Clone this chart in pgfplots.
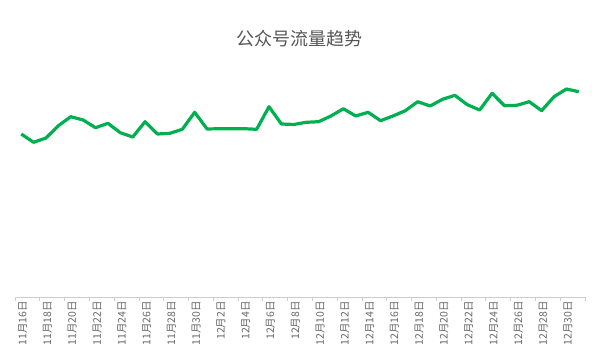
\documentclass[border=0pt]{standalone}
\usepackage{pgfplots}
\pgfplotsset{compat=1.18}
\usepackage{fontspec}
\newfontfamily\cjk{Noto Sans CJK SC}
\definecolor{linegreen}{RGB}{0,176,80}
\definecolor{axisgray}{RGB}{204,204,204}
\definecolor{labelgray}{RGB}{102,102,102}
\definecolor{titlegray}{RGB}{85,85,85}
\begin{document}
\begin{tikzpicture}[x=1pt,y=1pt]
\useasboundingbox (0,0) rectangle (592,354);
\node[font=\cjk\fontsize{18}{18}\selectfont, text=titlegray] at (299,315) {公众号流量趋势};
\begin{axis}[
  at={(15pt,57pt)}, anchor=south west,
  scale only axis, width=570pt, height=237pt,
  xmin=-0.5, xmax=45.5, ymin=0, ymax=237,
  axis x line*=bottom, axis y line=none,
  x axis line style={draw=axisgray, line width=0.8pt, -},
  xtick={0,2,...,44},
  xticklabels={11月16日,11月18日,11月20日,11月22日,11月24日,11月26日,11月28日,11月30日,12月2日,12月4日,12月6日,12月8日,12月10日,12月12日,12月14日,12月16日,12月18日,12月20日,12月22日,12月24日,12月26日,12月28日,12月30日},
  major tick length=0pt,
  minor xtick={-0.5,1.5,...,45.5},
  minor tick length=4pt,
  tick align=outside,
  minor tick style={draw=axisgray, line width=0.8pt},
  xticklabel style={xshift=1.5pt, yshift=-4pt, rotate=90, anchor=east, font=\cjk\fontsize{10.5}{10.5}\selectfont, text=labelgray, inner sep=0pt},
  clip=false,
]
\addplot[linegreen, line width=3.2pt, line join=round] coordinates {
(0,163) (1,154.7) (2,159) (3,171.3) (4,180.3) (5,177) (6,169.3) (7,173.7) (8,164.3) (9,160)
(10,175.3) (11,163) (12,163.7) (13,167.7) (14,184.7) (15,168) (16,168.3) (17,168.3) (18,168.3) (19,167.7)
(20,190.3) (21,173) (22,172.5) (23,174.7) (24,175.3) (25,181) (26,188.3) (27,181) (28,184.7) (29,176.3)
(30,181) (31,186.3) (32,195.3) (33,191) (34,197.7) (35,201.7) (36,192.3) (37,187) (38,203.7) (39,191.3)
(40,191.7) (41,195.3) (42,186.3) (43,200.3) (44,208) (45,205.3)
};
\end{axis}
\end{tikzpicture}
\end{document}
